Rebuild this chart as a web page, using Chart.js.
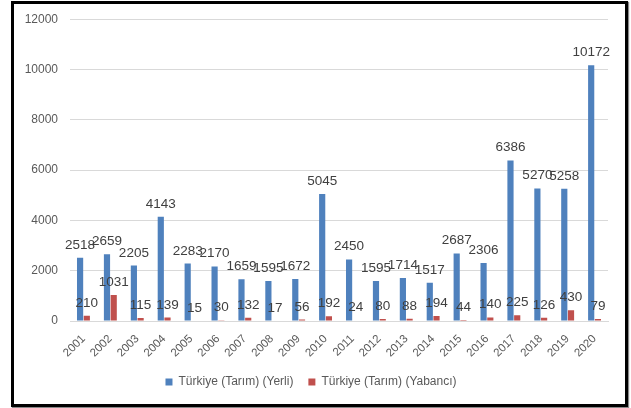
<!DOCTYPE html>
<html>
<head>
<meta charset="utf-8">
<script src="https://cdn.jsdelivr.net/npm/chart.js@4/dist/chart.umd.min.js"></script>
<style>
  html, body { margin: 0; padding: 0; background: #fff; }
  #wrap { position: relative; width: 631px; height: 408px; }
  #frame {
    position: absolute; left: 11px; top: 1px; width: 611px; height: 400px;
    border: 3px solid #000; box-shadow: 1px 1px 1px #888;
  }
  canvas { position: absolute; left: 0; top: 0; }
</style>
</head>
<body>
<div id="wrap">
  <div id="frame"></div>
  <canvas id="chart" width="631" height="408"></canvas>
</div>
<script>
const years = ['2001', '2002', '2003', '2004', '2005', '2006', '2007', '2008', '2009', '2010',
  '2011', '2012', '2013', '2014', '2015', '2016', '2017', '2018', '2019', '2020'];
const yerli = [2518, 2659, 2205, 4143, 2283, 2170, 1659, 1595, 1672, 5045,
  2450, 1595, 1714, 1517, 2687, 2306, 6386, 5270, 5258, 10172];
const yabanci = [210, 1031, 115, 139, 15, 30, 132, 17, 56, 192,
  24, 80, 88, 194, 44, 140, 225, 126, 430, 79];
const seriesNames = ['Türkiye (Tarım) (Yerli)', 'Türkiye (Tarım) (Yabancı)'];

const FONT = 'Liberation Sans';

// draws value labels just above each bar (like Excel "outside end")
const valueLabels = {
  id: 'valueLabels',
  afterDatasetsDraw(chart) {
    const ctx = chart.ctx;
    ctx.save();
    ctx.font = '13.5px "' + FONT + '"';
    ctx.fillStyle = '#404040';
    ctx.textAlign = 'center';
    ctx.textBaseline = 'alphabetic';
    chart.data.datasets.forEach(function (ds, i) {
      chart.getDatasetMeta(i).data.forEach(function (bar, j) {
        ctx.fillText(String(ds.data[j]), bar.x, bar.y - 9);
      });
    });
    ctx.restore();
  }
};

new Chart(document.getElementById('chart'), {
  type: 'bar',
  data: {
    labels: years,
    datasets: [{
      label: seriesNames[0],
      data: yerli,
      backgroundColor: '#4f81bd',
      categoryPercentage: 0.5,
      barPercentage: 0.92
    }, {
      label: seriesNames[1],
      data: yabanci,
      backgroundColor: '#c0504d',
      categoryPercentage: 0.5,
      barPercentage: 0.92
    }]
  },
  options: {
    responsive: false,
    animation: false,
    layout: { padding: { left: 14, right: 23, top: 19, bottom: 10 } },
    scales: {
      y: {
        min: 0,
        max: 12000,
        ticks: {
          stepSize: 2000, padding: 12, color: '#595959', font: { family: FONT, size: 12 },
          callback: function (v) { return String(v); }
        },
        grid: { color: '#d9d9d9', drawTicks: false },
        border: { display: false },
        afterFit: function (s) { s.height = s.height; s.width = 56; }
      },
      x: {
        ticks: { minRotation: 45, maxRotation: 45, color: '#595959', padding: 11, font: { family: FONT, size: 11.5 } },
        grid: { display: false, drawTicks: false },
        border: { color: '#d9d9d9' },
        afterFit: function (s) { s.height = 40; }
      }
    },
    plugins: {
      legend: {
        position: 'bottom',
        labels: {
          boxWidth: 7, boxHeight: 7, padding: 15,
          color: '#595959', font: { family: FONT, size: 12 }
        }
      },
      tooltip: { enabled: false }
    }
  },
  plugins: [valueLabels]
});
</script>
</body>
</html>
